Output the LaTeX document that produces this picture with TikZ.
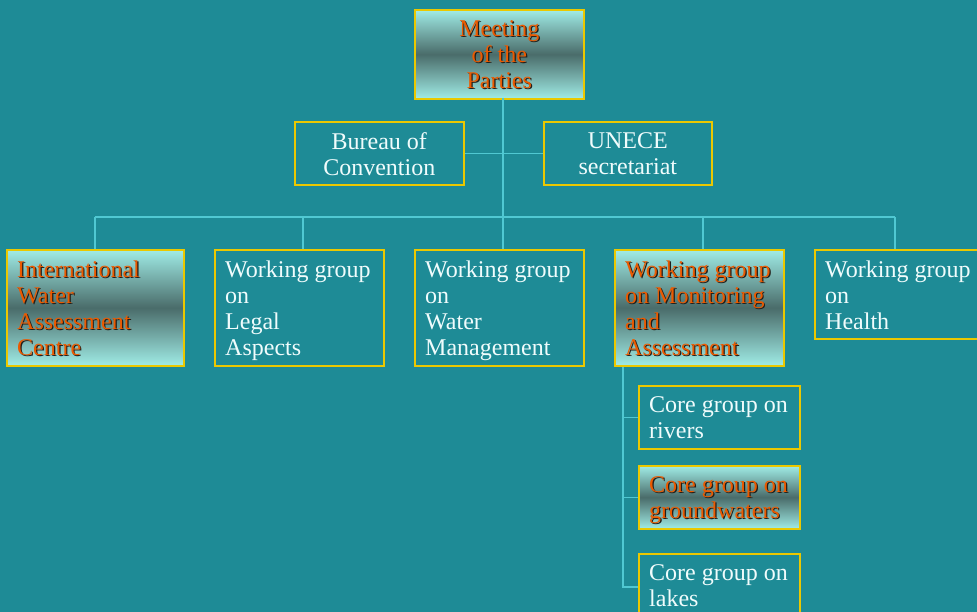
\documentclass[tikz,border=0pt]{standalone}
\usepackage{fontspec}
\setmainfont{Liberation Serif}
\definecolor{bg}{RGB}{30,139,150}
\definecolor{lite}{RGB}{160,236,230}
\definecolor{darkc}{RGB}{74,108,106}
\definecolor{gold}{RGB}{235,200,0}
\definecolor{wirec}{RGB}{80,200,210}
\definecolor{orng}{RGB}{235,90,0}
\definecolor{shad}{RGB}{35,30,25}
\definecolor{txtc}{RGB}{240,252,252}
\newcommand\shtx[1]{\makebox[0pt][l]{\hspace{1.2pt}\raisebox{-1.2pt}{\textcolor{shad}{#1}}}\textcolor{orng}{#1}}
\begin{document}
\begin{tikzpicture}[x=1pt,y=-1pt,
  box/.style={draw=gold,line width=1.6pt,inner sep=0pt,anchor=north west},
  hi/.style={box,top color=lite,bottom color=lite,middle color=darkc},
  txt/.style={font=\fontsize{24}{26}\selectfont,text=txtc,inner sep=0pt,align=left,anchor=north west,execute at begin node=\strut},
  ctxt/.style={txt,align=center,anchor=north},
  wire/.style={draw=wirec,line width=1.4pt}]
\useasboundingbox (0,0) rectangle (977,612);
\fill[bg] (0,0) rectangle (977,612);
% boxes
\node[hi,minimum width=169pt,minimum height=89pt] (meeting) at (414,9) {};
\node[box,minimum width=169pt,minimum height=63pt] (bureau) at (294,121) {};
\node[box,minimum width=168pt,minimum height=63pt] (unece) at (543,121) {};
\node[hi,minimum width=177pt,minimum height=116pt] (iwac) at (6,249) {};
\node[box,minimum width=169pt,minimum height=116pt] (legal) at (214,249) {};
\node[box,minimum width=169pt,minimum height=116pt] (water) at (414,249) {};
\node[hi,minimum width=169pt,minimum height=116pt] (monit) at (614,249) {};
\node[box,minimum width=171pt,minimum height=89pt] (health) at (814,249) {};
\node[box,minimum width=161pt,minimum height=63pt] (rivers) at (638,385) {};
\node[hi,minimum width=161pt,minimum height=63pt] (ground) at (638,465) {};
\node[box,minimum width=161pt,minimum height=66pt] (lakes) at (638,553) {};
% texts
\node[ctxt] (meetingT) at ([yshift=-11.5pt]meeting.north) {\shtx{Meeting}\\\shtx{of the}\\\shtx{Parties}};
\node[ctxt] (bureauT) at ([yshift=-11.5pt]bureau.north) {Bureau of\\Convention};
\node[ctxt] (uneceT) at ([yshift=-11.5pt]unece.north) {UNECE\\secretariat};
\node[txt] (iwacT) at ([xshift=11pt,yshift=-11.5pt]iwac.north west) {\shtx{International}\\\shtx{Water}\\\shtx{Assessment}\\\shtx{Centre}};
\node[txt] (legalT) at ([xshift=11pt,yshift=-11.5pt]legal.north west) {Working group\\on\\Legal\\Aspects};
\node[txt] (waterT) at ([xshift=11pt,yshift=-11.5pt]water.north west) {Working group\\on\\Water\\Management};
\node[txt] (monitT) at ([xshift=11pt,yshift=-11.5pt]monit.north west) {\shtx{Working group}\\\shtx{on Monitoring}\\\shtx{and}\\\shtx{Assessment}};
\node[txt] (healthT) at ([xshift=11pt,yshift=-11.5pt]health.north west) {Working group\\on\\Health};
\node[txt] (riversT) at ([xshift=11pt,yshift=-11.5pt]rivers.north west) {Core group on\\rivers};
\node[txt] (groundT) at ([xshift=11pt,yshift=-11.5pt]ground.north west) {\shtx{Core group on}\\\shtx{groundwaters}};
\node[txt] (lakesT) at ([xshift=11pt,yshift=-11.5pt]lakes.north west) {Core group on\\lakes};
% connectors
\coordinate (busW) at (95,217);
\coordinate (busE) at (895,217);
\coordinate (dLegal) at (303,217);
\coordinate (dWater) at (503,217);
\coordinate (dMonit) at (703,217);
\coordinate (dMeet) at (503,98);
\coordinate (sub) at (623,0);
\draw[wire] (dMeet) -- (dWater);
\draw[wire] (bureau.east) -- (unece.west);
\draw[wire] (busW) -- (busE);
\draw[wire] (busW) -- (busW |- iwac.north);
\draw[wire] (dLegal) -- (dLegal |- legal.north);
\draw[wire] (dWater) -- (dWater |- water.north);
\draw[wire] (dMonit) -- (dMonit |- monit.north);
\draw[wire] (busE) -- (busE |- health.north);
\draw[wire] (sub |- monit.south) -- (sub |- lakes.west) -- (lakes.west);
\draw[wire] (sub |- rivers.west) -- (rivers.west);
\draw[wire] (sub |- ground.west) -- (ground.west);
\end{tikzpicture}
\end{document}
